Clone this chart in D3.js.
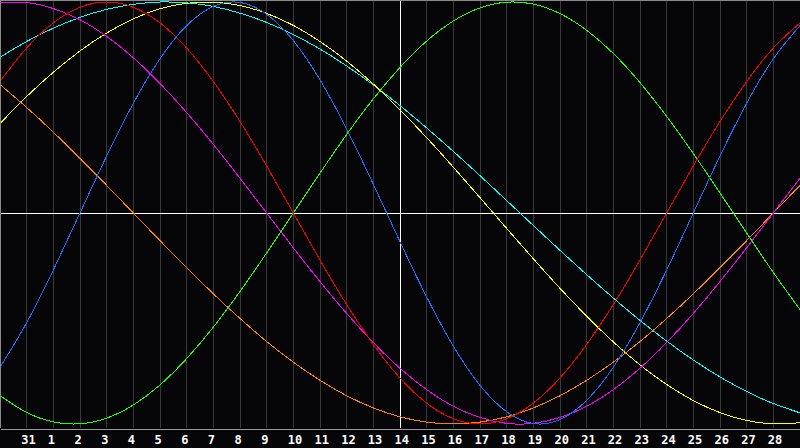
<!DOCTYPE html>
<html>
<head>
<meta charset="utf-8">
<script src="https://cdn.jsdelivr.net/npm/d3@7"></script>
<style>
  html, body { margin: 0; padding: 0; background: #060608; }
  svg { display: block; }
</style>
</head>
<body>
<script>
// Days shown along the bottom (first and last points sit on the frame edges).
var days = ['30', '31', '1', '2', '3', '4', '5', '6', '7', '8', '9', '10', '11', '12', '13',
    '14', '15', '16', '17', '18', '19', '20', '21', '22', '23', '24', '25', '26', '27', '28', '29'];
var today = '14';

// Cycle values in percent, one per day.
var physical = [-73.1, -52.0, -27.0, 0, 27.0, 52.0, 73.1, 88.8, 97.9, 99.8, 94.2, 81.7, 63.1, 39.8, 13.6,
    -13.6, -39.8, -63.1, -81.7, -94.2, -99.8, -97.9, -88.8, -73.1, -52.0, -27.0, 0, 27.0, 52.0, 73.1, 88.8];
var emotional = [62.3, 78.2, 90.1, 97.5, 100, 97.5, 90.1, 78.2, 62.3, 43.4, 22.3, 0, -22.3, -43.4, -62.3,
    -78.2, -90.1, -97.5, -100, -97.5, -90.1, -78.2, -62.3, -43.4, -22.3, 0, 22.3, 43.4, 62.3, 78.2, 90.1];
var intellectual = [-86.6, -94.5, -99.0, -99.9, -97.2, -91.0, -81.5, -69.0, -54.1, -37.2, -18.9, 0, 18.9, 37.2, 54.1,
    69.0, 81.5, 91.0, 97.2, 99.9, 99.0, 94.5, 86.6, 75.6, 61.8, 45.8, 28.2, 9.5, -9.5, -28.2, -45.8];
var intuitive = [99.7, 99.7, 96.9, 91.6, 83.7, 73.6, 61.4, 47.6, 32.5, 16.5, 0, -16.5, -32.5, -47.6, -61.4,
    -73.6, -83.7, -91.6, -96.9, -99.7, -99.7, -96.9, -91.6, -83.7, -73.6, -61.4, -47.6, -32.5, -16.5, 0, 16.5];
var aesthetic = [42.4, 55.2, 66.7, 76.8, 85.3, 92.0, 96.8, 99.4, 99.9, 98.3, 94.6, 88.9, 81.3, 72.0, 61.1,
    48.9, 35.7, 21.7, 7.3, -7.3, -21.7, -35.7, -48.9, -61.1, -72.0, -81.3, -88.9, -94.6, -98.3, -99.9, -99.4];
var awareness = [60.9, 50, 38.3, 25.9, 13.1, 0, -13.1, -25.9, -38.3, -50, -60.9, -70.7, -79.3, -86.6, -92.4,
    -96.6, -99.1, -100, -99.1, -96.6, -92.4, -86.6, -79.3, -70.7, -60.9, -50, -38.3, -25.9, -13.1, 0, 13.1];
var spiritual = [73.8, 81.3, 87.6, 92.7, 96.5, 98.9, 100.0, 99.6, 97.9, 94.7, 90.3, 84.6, 77.7, 69.7, 60.7,
    50.9, 40.3, 29.2, 17.7, 5.9, -5.9, -17.7, -29.2, -40.3, -50.9, -60.7, -69.7, -77.7, -84.6, -90.3, -94.7];

var w = 800,
    h = 448,
    plotBottom = 428;

var svg = d3.select('body').append('svg')
    .attr('width', w)
    .attr('height', h)
    .style('background', '#060608');

var x = d3.scalePoint().domain(days).range([0, w]);
var y = d3.scaleLinear().domain([-100, 100]).range([424, 2]);

// Day grid (skip the two edge points).
var inner = days.slice(1, days.length - 1);
svg.append('g').selectAll('line')
    .data(inner.filter(function(d) { return d != today; }))
  .enter().append('line')
    .attr('x1', function(d) { return Math.floor(x(d)) + 0.5; })
    .attr('x2', function(d) { return Math.floor(x(d)) + 0.5; })
    .attr('y1', 0)
    .attr('y2', plotBottom)
    .attr('stroke', '#3a3a3a')
    .attr('shape-rendering', 'crispEdges');

// Zero line and today marker.
svg.append('line')
    .attr('x1', 0).attr('x2', w)
    .attr('y1', Math.round(y(0)) + 0.5).attr('y2', Math.round(y(0)) + 0.5)
    .attr('stroke', '#ffffff')
    .attr('shape-rendering', 'crispEdges');
svg.append('line')
    .attr('x1', Math.floor(x(today)) + 0.5).attr('x2', Math.floor(x(today)) + 0.5)
    .attr('y1', 0).attr('y2', plotBottom)
    .attr('stroke', '#ffffff')
    .attr('shape-rendering', 'crispEdges');

var cycles = [
  {values: spiritual, color: '#00ffff'},
  {values: aesthetic, color: '#ffff00'},
  {values: awareness, color: '#ff8000'},
  {values: intuitive, color: '#ff00ff'},
  {values: intellectual, color: '#22ff00'},
  {values: emotional, color: '#ff0000'},
  {values: physical, color: '#1a6cff'}
];

var line = d3.line()
    .x(function(d, i) { return x(days[i]); })
    .y(function(d) { return y(d); })
    .curve(d3.curveNatural);

svg.append('g').selectAll('path')
    .data(cycles)
  .enter().append('path')
    .attr('d', function(d) { return line(d.values); })
    .attr('fill', 'none')
    .attr('stroke', function(d) { return d.color; })
    .attr('stroke-width', 1)
    .attr('shape-rendering', 'crispEdges');

// Frame: top and left edges.
svg.append('path')
    .attr('d', 'M0.5,' + plotBottom + 'V0.5H' + w)
    .attr('fill', 'none')
    .attr('stroke', '#8a8a8a')
    .attr('shape-rendering', 'crispEdges');

// Bottom axis with the day labels.
var axis = d3.axisBottom(x)
    .tickValues(inner)
    .tickSize(0)
    .tickSizeOuter(0)
    .tickPadding(7);

var gAxis = svg.append('g')
    .attr('transform', 'translate(0,' + (plotBottom + 0.5) + ')')
    .call(axis);

gAxis.select('.domain')
    .attr('stroke', '#9a9a9a')
    .attr('shape-rendering', 'crispEdges');

gAxis.selectAll('text')
    .attr('fill', '#ffffff')
    .attr('text-anchor', 'start')
    .attr('x', -6)
    .style('font-family', '"DejaVu Sans Mono", monospace')
    .style('font-weight', 'bold')
    .style('font-size', '12px');
</script>
</body>
</html>
